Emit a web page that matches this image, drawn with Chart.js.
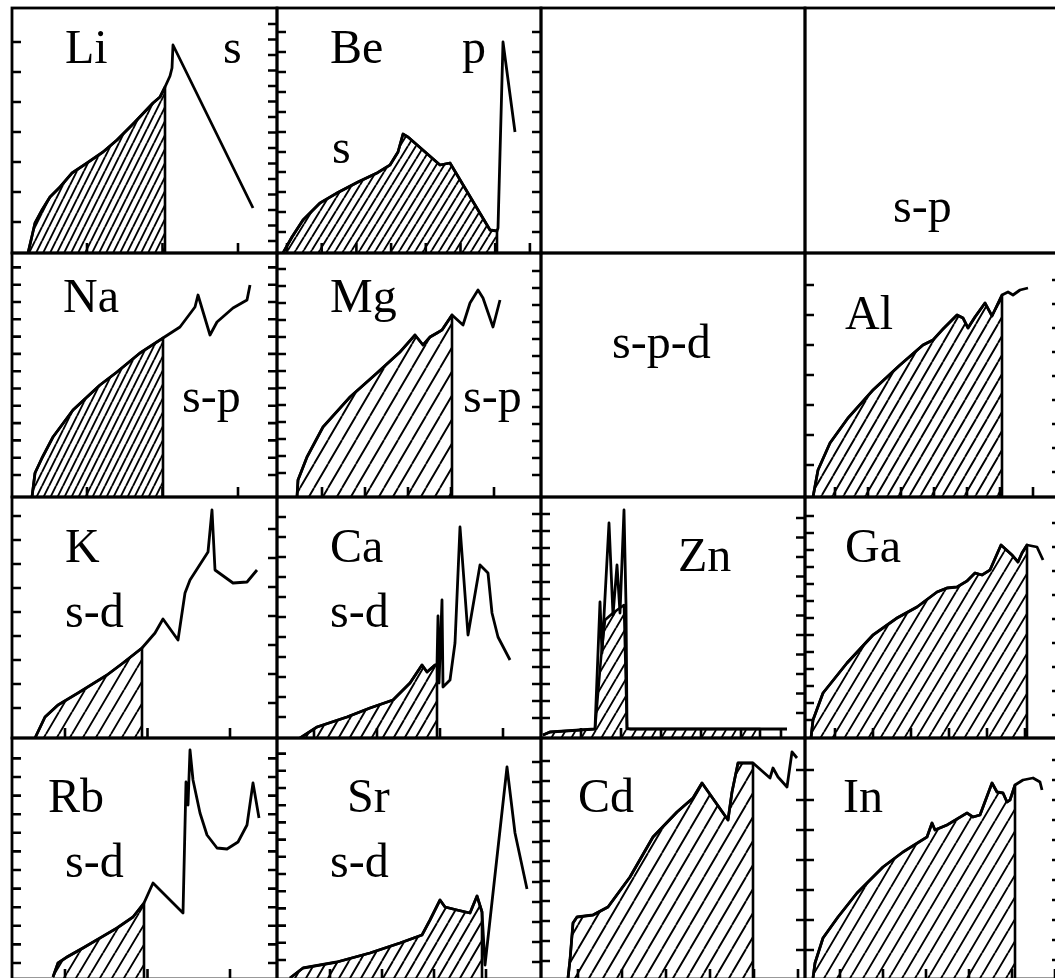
<!DOCTYPE html>
<html>
<head>
<meta charset="utf-8">
<script src="https://cdn.jsdelivr.net/npm/chart.js@4.4.0/dist/chart.umd.min.js"></script>
<style>
  html, body { margin: 0; padding: 0; background: #fff; }
  #figure { position: relative; width: 1055px; height: 978px; overflow: hidden; background: #fff; }
  #figure canvas { position: absolute; }
  .tag { position: absolute; font-family: "Liberation Serif", "Times New Roman", serif; font-size: 48px; line-height: 1; color: #000; white-space: nowrap; }
</style>
</head>
<body>
<div id="figure"></div>
<script>
// energy (E) and density of states (D) per element, arbitrary units;
// EF = Fermi level, everything up to it is hatched
const liE = [16, 20, 23, 30, 38, 48, 60, 75, 91, 105, 123, 141, 148, 153, 158, 160, 161, 241];
const liD = [0, 17, 30, 43, 56, 66, 80, 90, 101, 113, 131, 150, 156, 166, 177, 185, 208, 45];
const liEF = 153;

const beE = [6, 15, 26, 43, 60, 81, 100, 113, 121, 126, 131, 163, 173, 213, 220, 221, 226, 238];
const beD = [0, 16, 33, 50, 60, 71, 80, 88, 101, 119, 116, 88, 90, 23, 22, 25, 211, 121];
const beEF = 220;

const naE = [20, 23, 30, 41, 61, 88, 105, 128, 151, 168, 183, 186, 198, 205, 221, 235, 238];
const naD = [0, 24, 39, 60, 87, 112, 125, 144, 159, 170, 190, 202, 162, 175, 189, 197, 212];
const naEF = 151;

const mgE = [20, 21, 30, 46, 73, 100, 123, 138, 146, 153, 160, 165, 175, 186, 193, 201, 206, 216, 223];
const mgD = [0, 17, 40, 70, 100, 124, 145, 162, 152, 160, 164, 167, 182, 172, 194, 207, 199, 170, 197];
const mgEF = 175;

const alE = [8, 13, 25, 43, 68, 95, 118, 128, 138, 152, 158, 163, 170, 180, 187, 197, 203, 208, 215, 223];
const alD = [0, 27, 54, 79, 107, 132, 152, 157, 168, 182, 179, 169, 180, 194, 181, 202, 205, 202, 207, 209];
const alEF = 197;

const kE = [23, 33, 46, 66, 95, 111, 130, 143, 151, 166, 173, 178, 196, 200, 203, 221, 235, 245];
const kD = [0, 21, 33, 45, 63, 75, 90, 105, 119, 98, 145, 158, 186, 228, 168, 155, 156, 168];
const kEF = 130;

const caE = [23, 40, 70, 93, 116, 133, 145, 150, 158, 160, 161, 162, 165, 166, 173, 178, 183, 191, 203, 211, 215, 221, 233];
const caD = [0, 11, 21, 30, 38, 55, 73, 66, 73, 73, 122, 55, 138, 51, 58, 95, 211, 103, 173, 165, 125, 101, 78];
const caEF = 160;

const znE = [2, 9, 54, 59, 61, 68, 72, 76, 79, 83, 85, 86, 89, 246];
const znD = [3, 6, 9, 136, 85, 215, 123, 173, 125, 228, 133, 10, 9, 9];
// occupied part of the Zn d band is drawn lower than the spiky total
const znFillE = [2, 9, 54, 60, 64, 72, 83, 86, 89, 219];
const znFillD = [3, 6, 9, 80, 118, 125, 133, 9, 9, 9];
const znEF = 219;

const gaE = [6, 8, 18, 42, 68, 92, 112, 132, 142, 152, 162, 170, 177, 185, 196, 207, 213, 217, 222, 232, 238];
const gaD = [0, 18, 45, 75, 103, 120, 131, 146, 150, 151, 157, 165, 163, 168, 193, 183, 176, 185, 193, 191, 178];
const gaEF = 222;

const rbE = [41, 46, 55, 71, 88, 105, 121, 132, 141, 171, 174, 176, 178, 181, 188, 195, 205, 215, 226, 235, 241, 247];
const rbD = [2, 16, 22, 31, 41, 51, 62, 76, 96, 66, 197, 174, 229, 199, 166, 144, 131, 130, 137, 154, 196, 161];
const rbEF = 132;

const srE = [13, 26, 60, 93, 123, 145, 153, 163, 168, 180, 193, 200, 205, 208, 230, 238, 250];
const srD = [1, 11, 17, 26, 36, 44, 59, 79, 72, 69, 66, 83, 67, 14, 212, 146, 90];
const srEF = 205;

const cdE = [27, 29, 32, 36, 52, 67, 89, 112, 136, 152, 161, 187, 191, 197, 212, 229, 232, 237, 246, 251, 256];
const cdD = [1, 19, 56, 62, 64, 72, 102, 142, 167, 181, 196, 159, 187, 216, 216, 201, 211, 202, 192, 227, 221];
const cdEF = 212;

const inE = [8, 10, 18, 33, 52, 78, 98, 122, 127, 130, 142, 162, 168, 175, 187, 192, 198, 202, 205, 210, 218, 228, 235, 237];
const inD = [1, 16, 41, 62, 86, 112, 127, 142, 156, 149, 154, 166, 162, 164, 196, 187, 186, 177, 179, 194, 199, 201, 197, 189];
const inEF = 210;

// grid lines of the 4x4 layout
const colX = [12, 277, 541, 805, 1061];
const rowY = [8, 253, 497, 738, 979];
const PAD = 5;

// hatch: [spacing, rise per tile]; ticks: [first, step] in data units
const panels = [
  { col: 0, row: 0, e: liE, d: liD, ef: liEF, hatch: [7, 14], left: [31, 30], right: [12, 15.5], bottom: [75, 75.5] },
  { col: 1, row: 0, e: beE, d: beD, ef: beEF, hatch: [8, 13], left: [21, 20], right: [21, 20], bottom: [10, 34.7] },
  { col: 2, row: 0 },
  { col: 3, row: 0 },
  { col: 0, row: 1, e: naE, d: naD, ef: naEF, hatch: [7, 14], left: [22, 17.3], right: [22, 17.3], bottom: [75, 75.5] },
  { col: 1, row: 1, e: mgE, d: mgD, ef: mgEF, hatch: [14, 24], left: [24, 17], right: [22, 17], bottom: [45, 43] },
  { col: 2, row: 1 },
  { col: 3, row: 1, e: alE, d: alD, ef: alEF, hatch: [11, 19], left: [32, 30], right: [25, 24], bottom: [30, 33] },
  { col: 0, row: 2, e: kE, d: kD, ef: kEF, hatch: [13, 22], left: [30, 24], right: [35, 29], bottom: [53, 82.5] },
  { col: 1, row: 2, e: caE, d: caD, ef: caEF, hatch: [11, 19], left: [21, 20], right: [20, 17], bottom: [37, 63] },
  { col: 2, row: 2, e: znE, d: znD, ef: znEF, fe: znFillE, fd: znFillD, hatch: [10, 17], left: [20, 17], right: [25, 19.5], bottom: [40, 40] },
  { col: 3, row: 2, e: gaE, d: gaD, ef: gaEF, hatch: [12, 20], left: [18, 17], right: [23, 24], bottom: [30, 38] },
  { col: 0, row: 3, e: rbE, d: rbD, ef: rbEF, hatch: [12, 20], left: [16, 18.6], right: [16, 18.6], bottom: [53, 82.5] },
  { col: 1, row: 3, e: srE, d: srD, ef: srEF, hatch: [11, 19], left: [19, 17.2], right: [17, 20], bottom: [53, 52] },
  { col: 2, row: 3, e: cdE, d: cdD, ef: cdEF, hatch: [14, 24], left: [18, 20], right: [29, 30], bottom: [37, 44] },
  { col: 3, row: 3, e: inE, d: inD, ef: inEF, hatch: [13, 22], left: [29, 30], right: [19, 20], bottom: [35, 43] }
];

// element symbols and band labels, [text, x, baseline]
const tags = [
  ['Li', 65, 63], ['s', 223, 63], ['Be', 330, 63], ['p', 462, 63], ['s', 332, 163], ['s-p', 893, 222],
  ['Na', 63, 312], ['s-p', 182, 412], ['Mg', 330, 312], ['s-p', 463, 412], ['s-p-d', 612, 358], ['Al', 845, 329],
  ['K', 65, 562], ['s-d', 65, 627], ['Ca', 330, 562], ['s-d', 330, 627], ['Zn', 678, 571], ['Ga', 845, 562],
  ['Rb', 48, 812], ['s-d', 65, 877], ['Sr', 347, 812], ['s-d', 330, 877], ['Cd', 578, 812], ['In', 843, 812]
];

const figure = document.getElementById('figure');

function hatchPattern(w, h) {
    const tile = document.createElement('canvas');
    tile.width = w;
    tile.height = h;
    const g = tile.getContext('2d');
    g.strokeStyle = '#000';
    g.lineWidth = 1.9;
    g.beginPath();
    for (let k = -1; k <= 1; k++) {
        g.moveTo(k * w, h);
        g.lineTo(k * w + w, 0);
    }
    g.stroke();
    return g.createPattern(tile, 'repeat');
}

function toPoints(e, d) {
    return e.map((v, i) => ({ x: v, y: d[i] }));
}

function fillPoints(e, d, ef) {
    const pts = [];
    e.forEach((v, i) => {
        if (v <= ef) pts.push({ x: v, y: d[i] });
    });
    pts.push({ x: ef, y: 0 }); // drop to the axis at the Fermi level
    return pts;
}

// frame and inward ticks on the left, right and bottom edges
const framePlugin = {
    id: 'frame',
    afterDatasetsDraw(chart, args, opts) {
        const { ctx, chartArea: a } = chart;
        const x = chart.scales.x;
        const y = chart.scales.y;
        ctx.save();
        ctx.strokeStyle = '#000';
        ctx.lineCap = 'butt';
        ctx.lineWidth = 2.6;
        ctx.beginPath();
        if (opts.left) {
            for (let v = opts.left[0]; v < y.max - 5; v += opts.left[1]) {
                const py = y.getPixelForValue(v);
                ctx.moveTo(a.left, py);
                ctx.lineTo(a.left + 9, py);
            }
        }
        if (opts.right) {
            for (let v = opts.right[0]; v < y.max - 5; v += opts.right[1]) {
                const py = y.getPixelForValue(v);
                ctx.moveTo(a.right, py);
                ctx.lineTo(a.right - 9, py);
            }
        }
        if (opts.bottom) {
            for (let v = opts.bottom[0]; v < x.max - 5; v += opts.bottom[1]) {
                const px = x.getPixelForValue(v);
                ctx.moveTo(px, a.bottom);
                ctx.lineTo(px, a.bottom - 10);
            }
        }
        ctx.stroke();
        ctx.lineWidth = 2.8;
        ctx.strokeRect(a.left, a.top, a.right - a.left, a.bottom - a.top);
        ctx.restore();
    }
};

panels.forEach(p => {
    const w = colX[p.col + 1] - colX[p.col];
    const h = rowY[p.row + 1] - rowY[p.row];
    const canvas = document.createElement('canvas');
    canvas.width = w + 2 * PAD;
    canvas.height = h + 2 * PAD;
    canvas.style.left = (colX[p.col] - PAD) + 'px';
    canvas.style.top = (rowY[p.row] - PAD) + 'px';
    figure.appendChild(canvas);

    const datasets = [];
    if (p.e) {
        datasets.push({
            data: fillPoints(p.fe || p.e, p.fd || p.d, p.ef),
            fill: 'origin',
            backgroundColor: hatchPattern(p.hatch[0], p.hatch[1]),
            borderColor: '#000',
            borderWidth: 2.6,
            borderJoinStyle: 'round',
            pointRadius: 0,
            tension: 0
        });
        datasets.push({
            data: toPoints(p.e, p.d),
            fill: false,
            borderColor: '#000',
            borderWidth: 2.8,
            borderJoinStyle: 'round',
            pointRadius: 0,
            tension: 0
        });
    }

    new Chart(canvas, {
        type: 'line',
        data: { datasets: datasets },
        options: {
            responsive: false,
            animation: false,
            devicePixelRatio: 1,
            events: [],
            layout: { padding: PAD },
            plugins: {
                legend: { display: false },
                tooltip: { enabled: false },
                frame: { left: p.left, right: p.right, bottom: p.bottom }
            },
            scales: {
                x: { type: 'linear', min: 0, max: w, display: false },
                y: { type: 'linear', min: 0, max: h, display: false }
            }
        },
        plugins: [framePlugin]
    });
});

tags.forEach(([text, x, base]) => {
    const el = document.createElement('div');
    el.className = 'tag';
    el.textContent = text;
    el.style.left = x + 'px';
    el.style.top = (base - 40) + 'px';
    figure.appendChild(el);
});
</script>
</body>
</html>
